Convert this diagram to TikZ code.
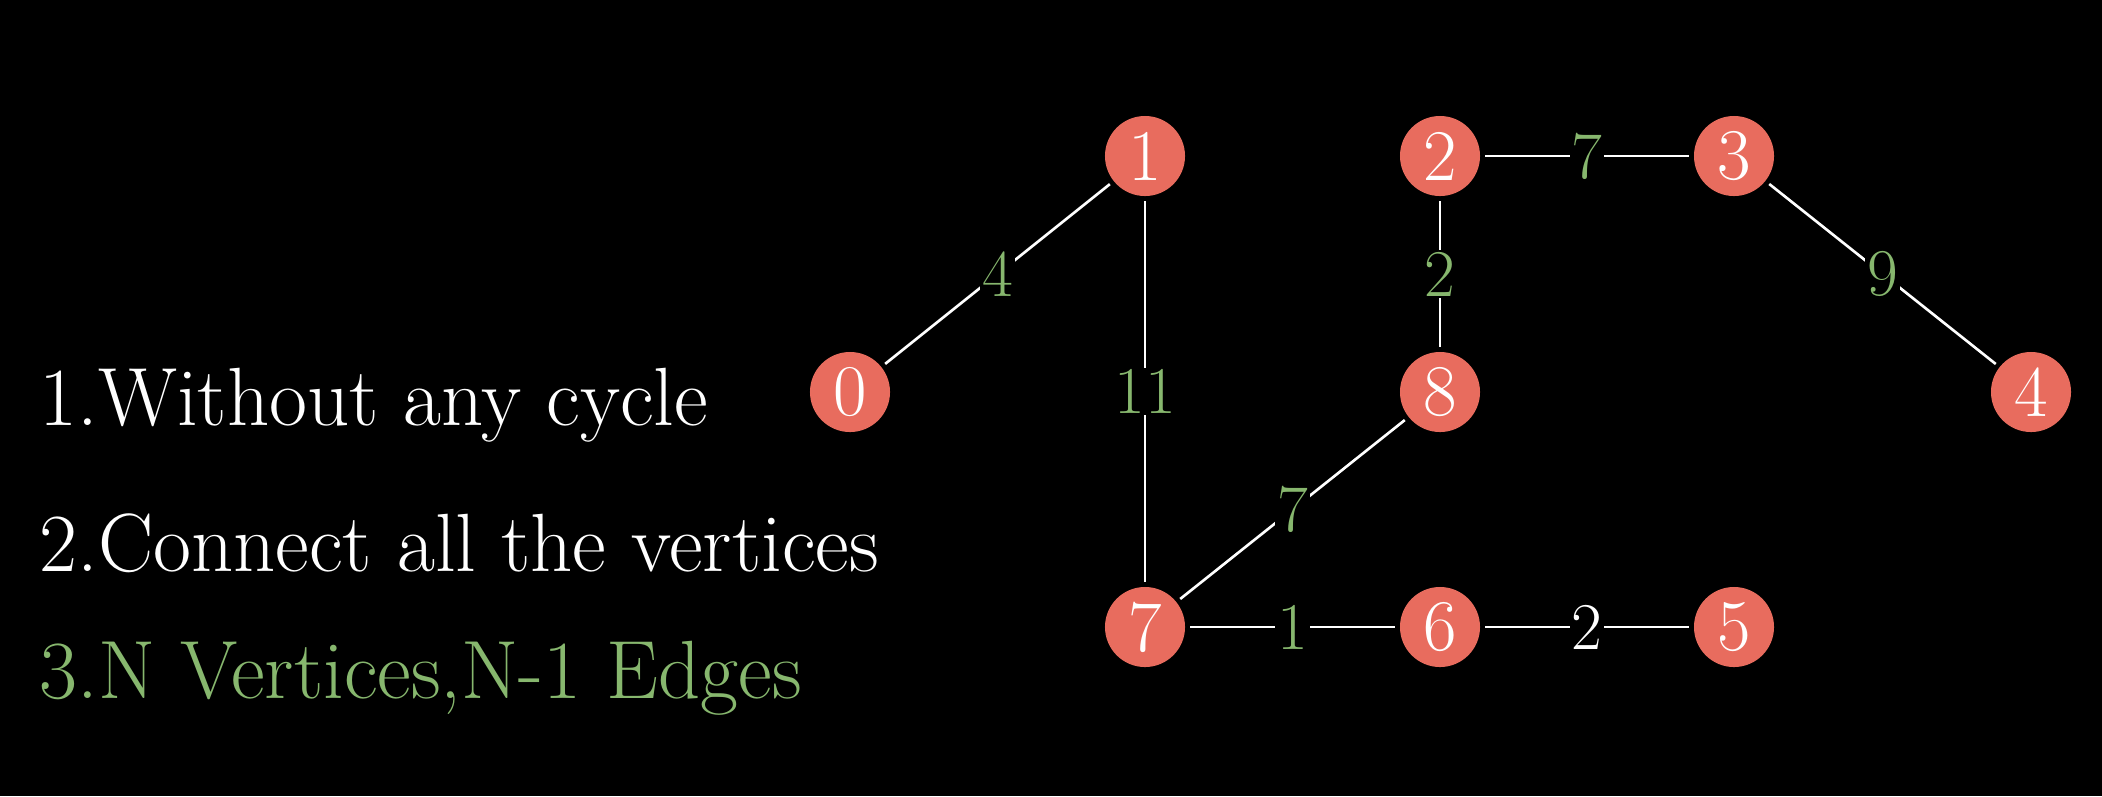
\documentclass[tikz,border=0pt]{standalone}
\usepackage{fontspec}
\definecolor{nodered}{RGB}{232,108,94}
\definecolor{lblgreen}{RGB}{135,183,110}
\begin{document}
\begin{tikzpicture}[x=0.01cm,y=-0.01cm,
  vtx/.style={circle,fill=nodered,draw=none,minimum size=0.8cm,inner sep=0pt,outer sep=0.05cm,
    text=white,font=\fontsize{20.7}{24}\selectfont},
  edge/.style={draw=white,line width=0.75pt},
  lbl/.style={fill=black,inner sep=0.5pt,text=lblgreen,font=\fontsize{19}{23}\selectfont},
  lblw/.style={lbl,text=white},
  item/.style={anchor=base west,inner sep=0pt,font=\fontsize{23.5}{28}\selectfont}]
\fill[black] (0,0) rectangle (2102,796);
\useasboundingbox (0,0) rectangle (2102,796);
% vertices
\node[vtx] (n0) at (850,392) {0};
\node[vtx] (n1) at (1145,156) {1};
\node[vtx] (n2) at (1440,156) {2};
\node[vtx] (n3) at (1734,156) {3};
\node[vtx] (n4) at (2031,392) {4};
\node[vtx] (n8) at (1440,392) {8};
\node[vtx] (n7) at (1145,627) {7};
\node[vtx] (n6) at (1440,627) {6};
\node[vtx] (n5) at (1734,627) {5};
% edges
\draw[edge] (n0) -- node[lbl]{4} (n1);
\draw[edge] (n1) -- node[lbl]{11} (n7);
\draw[edge] (n2) -- node[lbl]{7} (n3);
\draw[edge] (n2) -- node[lbl]{2} (n8);
\draw[edge] (n3) -- node[lbl]{9} (n4);
\draw[edge] (n8) -- node[lbl]{7} (n7);
\draw[edge] (n7) -- node[lbl]{1} (n6);
\draw[edge] (n6) -- node[lblw]{2} (n5);
% text
\node[item,text=white] (t1) at (39,425) {1.Without any cycle};
\node[item,text=white] (t2) at (39,571) {2.Connect all the vertices};
\node[item,text=lblgreen] (t3) at (39,698) {3.N Vertices,N-1 Edges};
\end{tikzpicture}
\end{document}
